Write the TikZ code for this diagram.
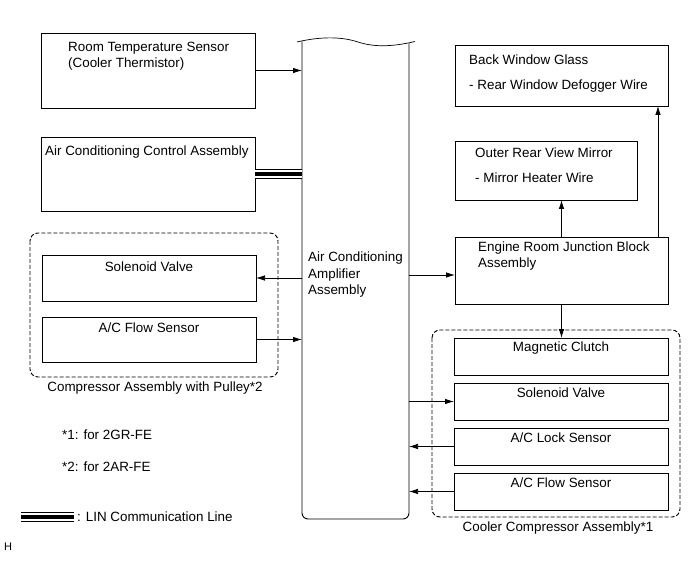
\documentclass[tikz,border=0pt]{standalone}
\usepackage{fontspec}
\setmainfont{Liberation Sans}
\usetikzlibrary{arrows.meta}
\begin{document}
\begin{tikzpicture}[x=1pt,y=-1pt,
  font=\fontsize{13.4}{16.5}\selectfont,
  box/.style={draw, line width=0.9pt, inner sep=0pt, outer sep=0pt, anchor=north west},
  grp/.style={draw, line width=0.95pt, dash pattern=on 4pt off 2pt, rounded corners=8pt},
  conn/.style={line width=0.75pt, -{Latex[length=9pt,width=5.5pt]}},
  txt/.style={inner sep=0pt, anchor=west, align=left},
  ctxt/.style={inner sep=0pt, anchor=center},
  lin/.style={line width=9.8pt, postaction={draw=white,line width=7.6pt}, postaction={draw=black,line width=4.6pt}}]
\useasboundingbox (0,0) rectangle (691,564);

% boxes
\node[box, minimum width=214pt, minimum height=75pt] (rt) at (41,33) {};
\node[box, minimum width=214pt, minimum height=74pt] (ac) at (41,137) {};
\node[box, minimum width=213pt, minimum height=61pt] (bwg) at (455,45) {};
\node[box, minimum width=182pt, minimum height=59pt] (orm) at (455,141) {};
\node[box, minimum width=213pt, minimum height=67pt] (erjb) at (455,237) {};
\node[box, minimum width=214pt, minimum height=46pt] (sv1) at (42,255) {};
\node[box, minimum width=214pt, minimum height=45pt] (fs1) at (42,317) {};
\node[box, minimum width=214pt, minimum height=37pt] (mc) at (454,338) {};
\node[box, minimum width=214pt, minimum height=37pt] (sv2) at (454,383) {};
\node[box, minimum width=214pt, minimum height=37pt] (ls) at (454,428) {};
\node[box, minimum width=214pt, minimum height=37pt] (fs2) at (454,473) {};

% amplifier
\node[inner sep=0pt, outer sep=0pt, minimum width=107pt, minimum height=478pt, anchor=north west] (amp) at (302,41) {};
\draw[line width=0.9pt, rounded corners=6pt] (302,41.5) -- (302,519) -- (409,519) -- (409,43.5);
\draw[line width=0.7pt] (297,42) .. controls (318,37) and (340,36) .. (358,42) .. controls (376,48) and (396,46) .. (415,41.5);

% group boxes
\draw[grp] (30,233) rectangle (278,377);
\draw[grp] (432,330) rectangle (680,517);

% texts
\node[txt] at (68,56) {Room Temperature Sensor\\(Cooler Thermistor)};
\node[txt] at (45,152) {Air Conditioning Control Assembly};
\node[txt] at (469,60) {Back Window Glass};
\node[txt] at (469,86) {- Rear Window Defogger Wire};
\node[txt] at (475,153) {Outer Rear View Mirror};
\node[txt] at (475,178) {- Mirror Heater Wire};
\node[txt] at (478,256) {Engine Room Junction Block\\Assembly};
\node[txt] at (308,275) {Air Conditioning\\Amplifier\\Assembly};
\node[ctxt] at (149,267) {Solenoid Valve};
\node[ctxt] at (149,328) {A/C Flow Sensor};
\node[ctxt] at (155,388) {Compressor Assembly with Pulley*2};
\node[ctxt] at (561,348) {Magnetic Clutch};
\node[ctxt] at (561,393) {Solenoid Valve};
\node[ctxt] at (561,438) {A/C Lock Sensor};
\node[ctxt] at (561,483) {A/C Flow Sensor};
\node[ctxt] at (558,528) {Cooler Compressor Assembly*1};
\node[txt] at (62,435) {*1: for 2GR-FE};
\node[txt] at (62,467) {*2: for 2AR-FE};
\node[txt] at (77,517) {: LIN Communication Line};
\node[txt, font=\fontsize{11}{13}\selectfont] at (4,547) {H};

% connectors
\draw[conn] (rt.east) -- (rt.east -| amp.west);
\draw[lin] (ac.east) -- (ac.east -| amp.west);
\draw[conn] (sv1.east -| amp.west) -- (sv1.east);
\draw[conn] (fs1.east) -- (fs1.east -| amp.west);
\coordinate (ej) at ([yshift=-4.5pt]erjb.west);
\draw[conn] (ej -| amp.east) -- (ej);
\draw[conn] (erjb.north) -- (erjb.north |- orm.south);
\coordinate (ejr) at ([xshift=96.5pt]erjb.north);
\draw[conn] (ejr) -- (ejr |- bwg.south);
\draw[conn] (erjb.south) -- (erjb.south |- mc.north);
\draw[conn] (sv2.west -| amp.east) -- (sv2.west);
\draw[conn] (ls.west) -- (ls.west -| amp.east);
\draw[conn] (fs2.west) -- (fs2.west -| amp.east);

% legend
\coordinate (la) at (21,517);
\coordinate (lb) at (74,517);
\draw[lin] (la) -- (lb);
\end{tikzpicture}
\end{document}
